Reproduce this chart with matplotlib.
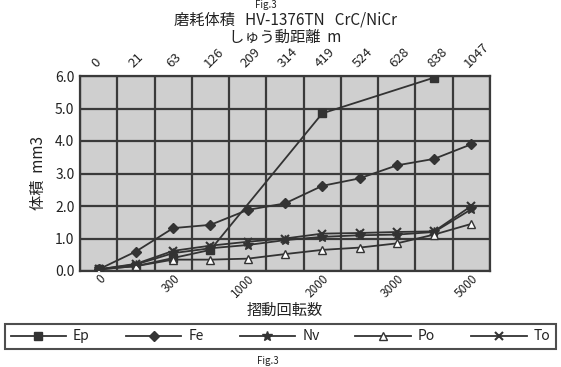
import matplotlib
matplotlib.use("Agg")
import matplotlib.pyplot as plt
from matplotlib.ticker import FormatStrFormatter

plt.rcParams['font.family'] = ['Noto Sans CJK JP', 'DejaVu Sans']

# 摺動回転数 (bottom) / しゅう動距離 m (top), one column per step
cycles = ['0', '100', '300', '600', '1000', '1500', '2000', '2500', '3000', '4000', '5000']
bottom_labels = ['0', '', '300', '', '1000', '', '2000', '', '3000', '', '5000']
distance = ['0', '21', '63', '126', '209', '314', '419', '524', '628', '838', '1047']

# wear volume mm3 (None = no point)
ep = [0.05, 0.15, 0.4, 0.65, None, None, 4.85, None, None, 5.95, None]
fe = [0.05, 0.6, 1.32, 1.42, 1.88, 2.08, 2.62, 2.85, 3.25, 3.45, 3.9]
nv = [0.05, 0.2, 0.55, 0.7, 0.8, 0.95, 1.05, 1.1, 1.12, 1.2, 1.9]
po = [0.05, 0.15, 0.35, 0.35, 0.38, 0.52, 0.65, 0.72, 0.85, 1.12, 1.45]
to = [0.05, 0.22, 0.62, 0.78, 0.9, 1.0, 1.15, 1.17, 1.2, 1.22, 2.0]

ink = '#333333'

fig = plt.figure(figsize=(5.61, 3.67), dpi=100)
ax = fig.add_axes([80/561, 1-271/367, 410/561, 195/367])
ax.set_facecolor('#cfcfcf')

series = [
    ('Ep', ep, dict(marker='s', markersize=6, markerfacecolor=ink)),
    ('Fe', fe, dict(marker='D', markersize=5, markerfacecolor=ink)),
    ('Nv', nv, dict(marker='*', markersize=7, markerfacecolor=ink)),
    ('Po', po, dict(marker='^', markersize=6, markerfacecolor='white')),
    ('To', to, dict(marker='x', markersize=6, markeredgewidth=1.5)),
]
for name, vals, style in series:
    xs = [i for i, v in enumerate(vals) if v is not None]
    ys = [v for v in vals if v is not None]
    ax.plot(xs, ys, color=ink, lw=1.3, markeredgecolor=ink, label=name, zorder=3, **style)

ax.set_xlim(-0.5, len(cycles) - 0.5)
ax.set_ylim(0, 6)
ax.set_yticks(range(0, 7))
ax.yaxis.set_major_formatter(FormatStrFormatter('%.1f'))
ax.set_xticks(range(len(cycles)))
ax.set_xticklabels(bottom_labels, rotation=45, ha='right', va='top', rotation_mode='anchor')
ax.set_xticks([i + 0.5 for i in range(-1, len(cycles))], minor=True)
ax.grid(True, which='minor', axis='x', color='#3a3a3a', lw=1.6)
ax.grid(True, which='major', axis='y', color='#3a3a3a', lw=1.6)
ax.set_axisbelow(True)
ax.tick_params(which='both', length=0, labelsize=10, colors='#222222', pad=4)
ax.tick_params(axis='x', labelsize=8.5, pad=1)
for s in ax.spines.values():
    s.set_color('#3a3a3a')
    s.set_linewidth(1.6)
ax.set_ylabel('体積  mm3', fontsize=11, color='#222222', labelpad=6)

top = ax.twiny()
top.set_xlim(ax.get_xlim())
top.set_xticks(range(len(distance)))
top.set_xticklabels(distance, rotation=45, ha='left', va='bottom', rotation_mode='anchor')
top.tick_params(length=0, labelsize=9.5, colors='#222222', pad=4)
for s in top.spines.values():
    s.set_visible(False)

fig.text(285/561, 1-20/367, '磨耗体積   HV-1376TN   CrC/NiCr', ha='center', va='center',
         fontsize=11, color='#222222')
fig.text(285/561, 1-37/367, 'しゅう動距離  m', ha='center', va='center',
         fontsize=11, color='#222222')
fig.text(285/561, 1-310/367, '摺動回転数', ha='center', va='center',
         fontsize=11, color='#222222')
fig.text(266/561, 1-5/367, 'Fig.3', ha='center', va='center', fontsize=7, color='#222222')
fig.text(268/561, 1-361/367, 'Fig.3', ha='center', va='center', fontsize=7, color='#222222')

leg = fig.legend(loc='lower left', bbox_to_anchor=(5/561, 1-349/367, 551/561, 31/367),
                 mode='expand', ncol=5, fontsize=10, handlelength=4, frameon=True,
                 fancybox=False, borderaxespad=0, handletextpad=0.5)
leg.get_frame().set_edgecolor('#222222')
leg.get_frame().set_linewidth(1.5)
for t in leg.get_texts():
    t.set_color('#222222')

fig.savefig('out.png', dpi=100, facecolor='white')
